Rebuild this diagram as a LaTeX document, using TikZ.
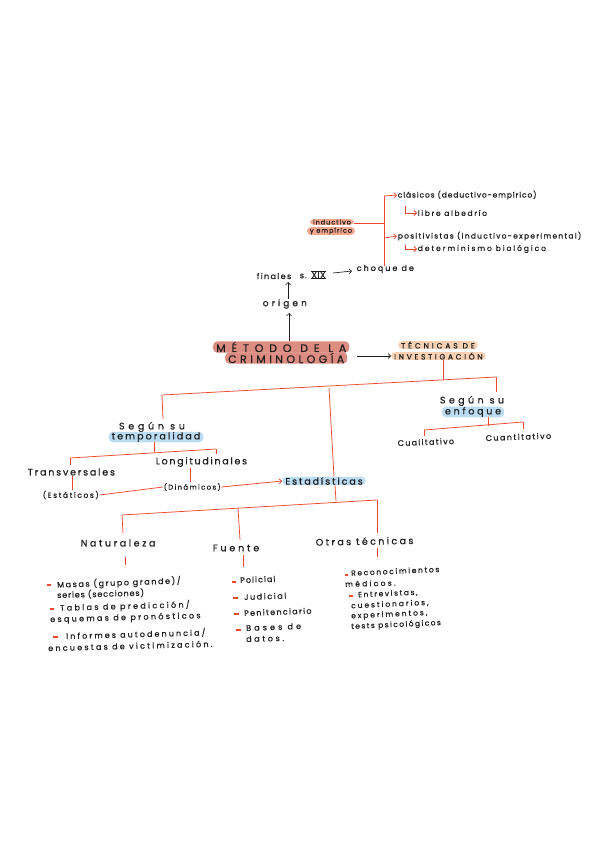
\documentclass[tikz,border=0pt]{standalone}
\usepackage{fontspec}
\setmainfont{Poppins}
\usetikzlibrary{arrows.meta}
\definecolor{rline}{HTML}{F0482F}
\definecolor{salm}{HTML}{F3A58C}
\definecolor{rosy}{HTML}{DC8C80}
\definecolor{peach}{HTML}{FAD1B2}
\definecolor{skyb}{HTML}{BCDCF4}
\definecolor{ink}{HTML}{1E1E1E}
\begin{document}
\begin{tikzpicture}[x=1pt,y=-1pt,
  tx/.style 2 args={inner sep=0.6pt, text=ink, font=\fontsize{#1}{#1}\selectfont\addfontfeature{FakeBold=0.6,LetterSpace=#2}},
  hl/.style={fill=#1, rounded corners=4pt, inner xsep=3pt, inner ysep=0.4pt},
  rl/.style={draw=rline, line width=0.75pt},
  ra/.style={rl, -{Straight Barb[length=2.5pt,width=5pt]}},
  ba/.style={draw=ink, line width=0.65pt, -{Straight Barb[length=2.5pt,width=5pt]}},
  bul/.style={draw=rline, line width=1.3pt},
  lw/.style={anchor=west},
  li/.style={anchor=west, inner sep=0pt, rotate=#1},
  li/.default=1.5
]
\useasboundingbox[fill=white] (0,0) rectangle (600,848);

% ---------- top branch ----------
\node[tx={7.5}{12}, lw] (clas) at (397,195) {clásicos (deductivo-empírico)};
\node[tx={7.5}{22}, lw] (libre) at (417,213) {libre albedrío};
\node[tx={7.5}{17}, lw] (posi) at (397,236) {positivistas (inductivo-experimental)};
\node[tx={7.5}{26}, lw] (deter) at (417,249) {determinismo biológico};
\node[tx={6.5}{15}, hl=salm] (ind1) at (332,222) {inductivo};
\node[tx={6.5}{15}, hl=salm] (ind2) at (331,231) {y empírico};

\coordinate (jt) at (384,196);
\coordinate (jm) at (384,223);
\coordinate (jb) at (384,266);
\coordinate (jp) at (384,238);
\draw[rl] (ind1.east |- jm) -- (jm);
\draw[rl] (jt) -- (jb);
\draw[ra] (jt) -- (clas.west);
\draw[ra] (jp) -- (posi.west);
\coordinate (e1) at (405,206);
\coordinate (e2) at (405,245);
\draw[ra] (e1) -- (e1 |- libre.west) -- (libre.west);
\draw[ra] (e2) -- (e2 |- deter.west) -- (deter.west);

% ---------- origin ----------
\node[tx={8}{17}, lw] (fin) at (256,276) {finales};
\node[tx={8}{14}, lw] (sdot) at (299,276) {s.};
\node[tx={8}{10}, lw] (xix) at (311,275) {XIX};
\draw[ink, line width=0.6pt] (xix.north west) -- (xix.north east);
\draw[ink, line width=0.6pt] (xix.south west) -- (xix.south east);
\node[tx={8}{25}, lw] (choq) at (356,269) {choque de};
\coordinate (a1) at (333,273);
\coordinate (a2) at (352,271);
\draw[ba] (a1) -- (a2);
\node[tx={9}{34}, lw] (orig) at (262,304) {origen};
\coordinate (o1) at (288,282);
\draw[ba] (orig.north -| o1) -- (o1);
\node[tx={11}{53}, hl=rosy, lw] (met1) at (213,347) {MÉTODO DE LA};
\node[tx={11}{31}, hl=rosy, lw] (met2) at (225,358) {CRIMINOLOGÍA};
\coordinate (o2) at (289,313);
\draw[ba] (met1.north -| o2) -- (o2);
\node[tx={7.5}{39}, hl=peach, lw] (tec1) at (398,345) {TÉCNICAS DE};
\node[tx={7.5}{36}, hl=peach, lw] (tec2) at (391,356) {INVESTIGACIÓN};
\coordinate (m0) at (357,356);
\draw[ba] (m0) -- (tec2.west);

% ---------- main tree ----------
\coordinate (hL) at (162,395);
\coordinate (hR) at (496,377);
\coordinate (hT) at (443,380);
\coordinate (hM) at (329,388);
\draw[rl] (hL) -- (hR);
\draw[rl] (tec2.south -| hT) -- (hT);
\node[tx={9.5}{39}] (seg1) at (152,427) {Según su};
\node[tx={9.5}{22}, hl=skyb] (temp) at (156,437) {temporalidad};
\draw[rl] (hL) -- (163,419);
\node[tx={9.5}{36}] (seg2) at (472,401) {Según su};
\node[tx={9.5}{29}, hl=skyb] (enf) at (473,412) {enfoque};
\draw[rl] (hR) -- (496,392);
\node[tx={9.5}{20}, hl=skyb] (est) at (324,481) {Estadísticas};
\draw[rl] (hM) -- (est.north -| 334,0);
\draw[rl] (est.south -| 335,0) -- (336,501);

% temporalidad bracket
\coordinate (tL) at (70,458);
\coordinate (tR) at (216,449);
\draw[rl] (temp.south -| 154,0) -- (154,452);
\draw[rl] (tL) -- (tR);
\draw[rl] (tL) -- (70,465);
\draw[rl] (tR) -- (216,454);
\node[tx={9.5}{19}, lw] (trans) at (27,472) {Transversales};
\node[tx={9.5}{18}, lw] (longi) at (155,462) {Longitudinales};
\node[tx={7.5}{21}, lw] (estat) at (42,495) {(Estáticos)};
\node[tx={7}{19}, lw] (dinam) at (163,487) {(Dinámicos)};
\draw[rl] (trans.south -| 72,0) -- (estat.north -| 72,0);
\draw[rl] (longi.south -| 190,0) -- (dinam.north -| 190,0);
\draw[rl] (estat.east) -- (dinam.west);
\draw[ra] (dinam.east) -- (est.west);

% enfoque bracket
\coordinate (qL) at (424,430);
\coordinate (qR) at (523,422);
\draw[rl] (enf.south -| 488,0) -- (488,426);
\draw[rl] (qL) -- (qR);
\draw[rl] (qL) -- (424,436);
\draw[rl] (qR) -- (523,429);
\node[tx={8}{16}, lw, rotate=2] (cuali) at (397,443) {Cualitativo};
\node[tx={8}{18}, lw, rotate=2] (cuanti) at (485,438) {Cuantitativo};

% estadisticas bracket
\coordinate (bL) at (122,515);
\coordinate (bR) at (377,500);
\coordinate (bM) at (238,508);
\draw[rl] (bL) -- (bR);
\draw[rl] (bL) -- (123,533);
\draw[rl] (bM) -- (240,540);
\draw[rl] (bR) -- (377,533);
\node[tx={9.5}{27}, lw] (nat) at (80,543) {Naturaleza};
\node[tx={9.5}{30}, lw] (fue) at (212,548) {Fuente};
\node[tx={9.5}{25}, lw, rotate=1] (otr) at (315,542) {Otras técnicas};
\draw[rl] (125,557) -- (125,565);
\draw[rl] (243,555) -- (243,567);
\draw[rl] (377,548) -- (377,557);

% Naturaleza list
\draw[bul] (47,585) -- (51,585);
\node[tx={8}{20}, li=2] (n1) at (57,585) {Masas (grupo grande)/};
\node[tx={8}{11}, li] (n1b) at (57,595) {series (secciones)};
\draw[bul] (50,609) -- (54,609);
\node[tx={8}{29}, li] (n2) at (60,608) {Tablas de predicción/};
\node[tx={8}{29}, li] (n2b) at (50,620) {esquemas de pronósticos};
\draw[bul] (53,637) -- (58,637);
\node[tx={8}{26}, li] (n3) at (66,636) {Informes autodenuncia/};
\node[tx={8}{28}, li] (n3b) at (48,648) {encuestas de victimización.};

% Fuente list
\draw[bul] (232,582) -- (236,582);
\node[tx={8}{13}, li=2] (f1) at (240,580) {Policial};
\draw[bul] (233,598) -- (238,598);
\node[tx={8}{20}, li=2] (f2) at (244,597) {Judicial};
\draw[bul] (234,614) -- (239,614);
\node[tx={8}{16}, li=2] (f3) at (244,613) {Penitenciario};
\draw[bul] (236,630) -- (241,630);
\node[tx={8}{39}, li=2] (f4) at (246,628) {Bases de};
\node[tx={8}{33}, li] (f4b) at (246,639) {datos.};

% Otras list
\draw[bul] (345,575) -- (348,575);
\node[tx={7.5}{22}, li=2.5] (o1t) at (351,573) {Reconocimientos};
\node[tx={7.5}{31}, li] (o1b) at (345,584) {médicos.};
\draw[bul] (349,596) -- (353,596);
\node[tx={7.5}{21}, li=2.5] (o2t) at (358,595) {Entrevistas,};
\node[tx={7.5}{26}, li=2.5] (o2b) at (351,606) {cuestionarios,};
\node[tx={7.5}{26}, li=2.5] (o2c) at (351,616.5) {experimentos,};
\node[tx={7.5}{19}, li=2.5] (o2d) at (351,627) {tests psicológicos};
\end{tikzpicture}
\end{document}
